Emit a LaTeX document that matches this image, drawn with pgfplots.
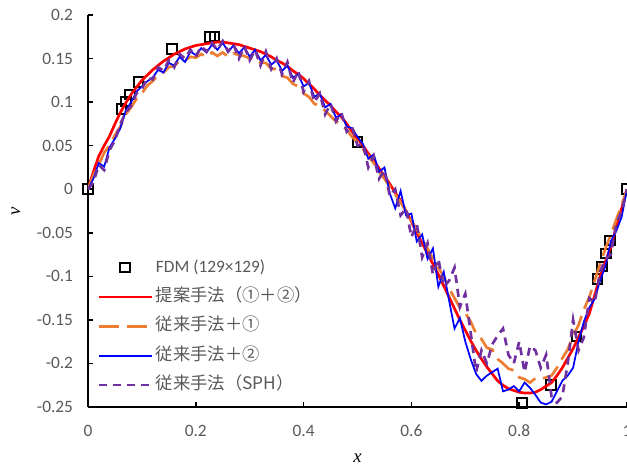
\documentclass[border=0pt]{standalone}
\usepackage{fontspec}
\setmainfont{Carlito}
\newfontfamily\jp{Noto Sans CJK JP}
\newfontfamily\serif{Liberation Serif}
\usepackage{pgfplots}
\usepackage{pgfplotstable}
\pgfplotsset{compat=1.18}
\definecolor{tgray}{HTML}{595959}
\definecolor{cred}{HTML}{FF0000}
\definecolor{corange}{HTML}{ED7D31}
\definecolor{cblue}{HTML}{0000FF}
\definecolor{cpurple}{HTML}{7030A0}
\pgfplotsset{
  lineleg/.style={legend image code/.code={\draw[##1] (0pt,0pt) -- (40pt,0pt);}},
  markleg/.style={legend image code/.code={\draw[##1] plot coordinates {(20pt,0pt)};}},
}

\pgfplotstableread{
x y
0.0000 0
0.0625 0.09233
0.0703 0.10091
0.0781 0.10890
0.0938 0.12317
0.1563 0.16077
0.2266 0.17507
0.2344 0.17527
0.5000 0.05454
0.8047 -0.24533
0.8594 -0.22445
0.9063 -0.16914
0.9453 -0.10313
0.9531 -0.08864
0.9609 -0.07391
0.9688 -0.05906
1.0000 0
}\tfdm

\pgfplotstableread{
x y
0.00 0.000
0.01 0.020
0.02 0.038
0.03 0.050
0.04 0.061
0.05 0.075
0.06 0.088
0.07 0.099
0.08 0.109
0.09 0.117
0.10 0.125
0.11 0.131
0.12 0.137
0.13 0.142
0.14 0.147
0.15 0.151
0.16 0.155
0.17 0.158
0.18 0.161
0.19 0.163
0.20 0.165
0.21 0.166
0.22 0.167
0.23 0.168
0.24 0.169
0.25 0.169
0.26 0.168
0.27 0.167
0.28 0.166
0.29 0.164
0.30 0.162
0.31 0.160
0.32 0.158
0.33 0.155
0.34 0.152
0.35 0.148
0.36 0.145
0.37 0.141
0.38 0.136
0.39 0.132
0.40 0.127
0.41 0.121
0.42 0.115
0.43 0.108
0.44 0.102
0.45 0.096
0.46 0.089
0.47 0.083
0.48 0.075
0.49 0.066
0.50 0.058
0.51 0.050
0.52 0.041
0.53 0.033
0.54 0.024
0.55 0.015
0.56 0.006
0.57 -0.004
0.58 -0.013
0.59 -0.025
0.60 -0.037
0.61 -0.050
0.62 -0.062
0.63 -0.074
0.64 -0.086
0.65 -0.098
0.66 -0.111
0.67 -0.124
0.68 -0.137
0.69 -0.150
0.70 -0.162
0.71 -0.174
0.72 -0.185
0.73 -0.195
0.74 -0.204
0.75 -0.212
0.76 -0.220
0.77 -0.225
0.78 -0.229
0.79 -0.231
0.80 -0.233
0.81 -0.234
0.82 -0.234
0.83 -0.233
0.84 -0.230
0.85 -0.226
0.86 -0.222
0.87 -0.214
0.88 -0.205
0.89 -0.194
0.90 -0.183
0.91 -0.170
0.92 -0.157
0.93 -0.143
0.94 -0.122
0.95 -0.100
0.96 -0.083
0.97 -0.066
0.98 -0.044
0.99 -0.022
1.00 0.000
}\tred

\pgfplotstableread{
x y
0.00 0.000
0.01 0.016
0.02 0.028
0.03 0.042
0.04 0.050
0.05 0.062
0.06 0.072
0.07 0.086
0.08 0.094
0.09 0.104
0.10 0.110
0.11 0.119
0.12 0.124
0.13 0.131
0.14 0.134
0.15 0.140
0.16 0.142
0.17 0.147
0.18 0.148
0.19 0.152
0.20 0.151
0.21 0.155
0.22 0.152
0.23 0.157
0.24 0.153
0.25 0.157
0.26 0.152
0.27 0.156
0.28 0.154
0.29 0.153
0.30 0.150
0.31 0.150
0.32 0.145
0.33 0.145
0.34 0.138
0.35 0.138
0.36 0.130
0.37 0.128
0.38 0.121
0.39 0.118
0.40 0.110
0.41 0.106
0.42 0.098
0.43 0.096
0.44 0.090
0.45 0.084
0.46 0.078
0.47 0.074
0.48 0.068
0.49 0.060
0.50 0.054
0.51 0.046
0.52 0.038
0.53 0.030
0.54 0.020
0.55 0.012
0.56 0.003
0.57 -0.006
0.58 -0.015
0.59 -0.025
0.60 -0.036
0.61 -0.046
0.62 -0.058
0.63 -0.068
0.64 -0.080
0.65 -0.090
0.66 -0.100
0.67 -0.114
0.68 -0.125
0.69 -0.136
0.70 -0.142
0.71 -0.152
0.72 -0.166
0.73 -0.172
0.74 -0.182
0.75 -0.184
0.76 -0.195
0.77 -0.200
0.78 -0.206
0.79 -0.208
0.80 -0.216
0.81 -0.218
0.82 -0.222
0.83 -0.217
0.84 -0.218
0.85 -0.216
0.86 -0.214
0.87 -0.205
0.88 -0.194
0.89 -0.184
0.90 -0.168
0.91 -0.156
0.92 -0.138
0.93 -0.124
0.94 -0.105
0.95 -0.086
0.96 -0.068
0.97 -0.052
0.98 -0.035
0.99 -0.018
1.00 0.000
}\torange

\pgfplotstableread{
x y
0.00 0.000
0.01 0.012
0.02 0.030
0.03 0.026
0.04 0.048
0.05 0.058
0.06 0.070
0.07 0.090
0.08 0.100
0.09 0.112
0.10 0.118
0.11 0.124
0.12 0.128
0.13 0.137
0.14 0.134
0.15 0.145
0.16 0.142
0.17 0.152
0.18 0.146
0.19 0.158
0.20 0.154
0.21 0.162
0.22 0.157
0.23 0.166
0.24 0.160
0.25 0.168
0.26 0.158
0.27 0.165
0.28 0.156
0.29 0.163
0.30 0.152
0.31 0.160
0.32 0.148
0.33 0.154
0.34 0.143
0.35 0.148
0.36 0.136
0.37 0.142
0.38 0.128
0.39 0.132
0.40 0.118
0.41 0.122
0.42 0.106
0.43 0.110
0.44 0.094
0.45 0.098
0.46 0.082
0.47 0.086
0.48 0.072
0.49 0.070
0.50 0.060
0.51 0.052
0.52 0.035
0.53 0.040
0.54 0.020
0.55 0.025
0.56 -0.005
0.57 -0.022
0.58 -0.002
0.59 -0.030
0.60 -0.028
0.61 -0.060
0.62 -0.052
0.63 -0.080
0.64 -0.068
0.65 -0.112
0.66 -0.095
0.67 -0.128
0.68 -0.160
0.69 -0.148
0.70 -0.175
0.71 -0.195
0.72 -0.212
0.73 -0.220
0.74 -0.214
0.75 -0.210
0.76 -0.206
0.77 -0.232
0.78 -0.230
0.79 -0.226
0.80 -0.232
0.81 -0.222
0.82 -0.228
0.83 -0.236
0.84 -0.245
0.85 -0.247
0.86 -0.244
0.87 -0.232
0.88 -0.220
0.89 -0.214
0.90 -0.205
0.91 -0.175
0.92 -0.152
0.93 -0.136
0.94 -0.126
0.95 -0.105
0.96 -0.088
0.97 -0.060
0.98 -0.048
0.99 -0.032
1.00 0.000
}\tblue

\pgfplotstableread{
x y
0.00 0.000
0.01 0.008
0.02 0.028
0.03 0.022
0.04 0.045
0.05 0.056
0.06 0.075
0.07 0.088
0.08 0.096
0.09 0.110
0.10 0.115
0.11 0.128
0.12 0.126
0.13 0.140
0.14 0.136
0.15 0.148
0.16 0.140
0.17 0.155
0.18 0.150
0.19 0.160
0.20 0.152
0.21 0.164
0.22 0.158
0.23 0.168
0.24 0.160
0.25 0.170
0.26 0.158
0.27 0.166
0.28 0.150
0.29 0.164
0.30 0.148
0.31 0.160
0.32 0.142
0.33 0.158
0.34 0.138
0.35 0.150
0.36 0.132
0.37 0.146
0.38 0.122
0.39 0.136
0.40 0.112
0.41 0.124
0.42 0.100
0.43 0.110
0.44 0.086
0.45 0.098
0.46 0.078
0.47 0.088
0.48 0.066
0.49 0.072
0.50 0.050
0.51 0.052
0.52 0.025
0.53 0.038
0.54 0.012
0.55 0.022
0.56 -0.008
0.57 0.000
0.58 -0.030
0.59 -0.022
0.60 -0.055
0.61 -0.040
0.62 -0.078
0.63 -0.062
0.64 -0.098
0.65 -0.080
0.66 -0.112
0.67 -0.105
0.68 -0.090
0.69 -0.135
0.70 -0.120
0.71 -0.165
0.72 -0.210
0.73 -0.185
0.74 -0.200
0.75 -0.178
0.76 -0.168
0.77 -0.160
0.78 -0.190
0.79 -0.200
0.80 -0.175
0.81 -0.210
0.82 -0.180
0.83 -0.185
0.84 -0.205
0.85 -0.190
0.86 -0.238
0.87 -0.245
0.88 -0.238
0.89 -0.200
0.90 -0.150
0.91 -0.185
0.92 -0.170
0.93 -0.125
0.94 -0.130
0.95 -0.095
0.96 -0.080
0.97 -0.075
0.98 -0.040
0.99 -0.025
1.00 0.000
}\tpurple

\begin{document}
\begin{tikzpicture}
\begin{axis}[
  scale only axis, width=404.25pt, height=294pt,
  xmin=0, xmax=1, ymin=-0.25, ymax=0.2,
  axis x line*=bottom, axis y line*=left,
  axis line style={-, line width=1.2pt, black},
  tick align=inside, major tick length=3.75pt,
  tick style={line width=1.2pt, black},
  xtick={0,0.2,0.4,0.6,0.8,1}, xticklabels={0,0.2,0.4,0.6,0.8,1},
  ytick={-0.25,-0.2,-0.15,-0.1,-0.05,0,0.05,0.1,0.15,0.2},
  yticklabels={-0.25,-0.2,-0.15,-0.1,-0.05,0,0.05,0.1,0.15,0.2},
  tick label style={font=\fontsize{13}{15}\selectfont, text=tgray},
  xticklabel style={yshift=-10pt},
  yticklabel style={xshift=-7.7pt},
  xlabel={\serif\itshape x}, ylabel={\serif\itshape v},
  xlabel style={at={(rel axis cs:0.5,-0.1301)}, anchor=center, font=\fontsize{14}{16}\selectfont},
  ylabel style={at={(rel axis cs:-0.1336,0.5)}, anchor=center, font=\fontsize{14}{16}\selectfont},
  legend style={at={(axis cs:0.0167,-0.0767)}, anchor=north west, draw=none, fill=none,
    inner sep=0pt, font=\fontsize{13}{15}\selectfont, text=tgray, row sep=5pt,
    nodes={inner sep=2pt, text height=10pt, text depth=3pt, anchor=west}},
  legend cell align=left,
  clip mode=individual,
]
\addlegendimage{markleg, only marks, mark=square, mark size=3.6pt, mark options={line width=1.5pt, draw=black, solid, fill=none}}
\addlegendentry{FDM (129×129)}
\addlegendimage{lineleg, draw=cred, line width=2pt}
\addlegendentry{{\jp 提案手法（①＋②）}}
\addlegendimage{lineleg, draw=corange, line width=2pt, dash pattern=on 15pt off 6pt}
\addlegendentry{{\jp 従来手法＋①}}
\addlegendimage{lineleg, draw=cblue, line width=1.6pt}
\addlegendentry{{\jp 従来手法＋②}}
\addlegendimage{lineleg, draw=cpurple, line width=2pt, dash pattern=on 6pt off 4.5pt}
\addlegendentry{{\jp 従来手法（SPH）}}
\addplot[forget plot, only marks, mark=square, mark size=3.6pt, mark options={line width=1.5pt, draw=black, solid, fill=none}] table {\tfdm};
\addplot[forget plot, draw=cred, line width=2pt] table {\tred};
\addplot[forget plot, draw=corange, line width=2pt, dash pattern=on 15pt off 6pt] table {\torange};
\addplot[forget plot, draw=cblue, line width=1.3pt] table {\tblue};
\addplot[forget plot, draw=cpurple, line width=2pt, dash pattern=on 6pt off 4.5pt] table {\tpurple};
\coordinate (ll) at (rel axis cs:0,0);
\coordinate (ur) at (rel axis cs:1,1);
\end{axis}
\pgfresetboundingbox
\path[use as bounding box] ([xshift=-66pt,yshift=-43.5pt]ll) rectangle ([yshift=11.25pt]ur);
\end{tikzpicture}
\end{document}
